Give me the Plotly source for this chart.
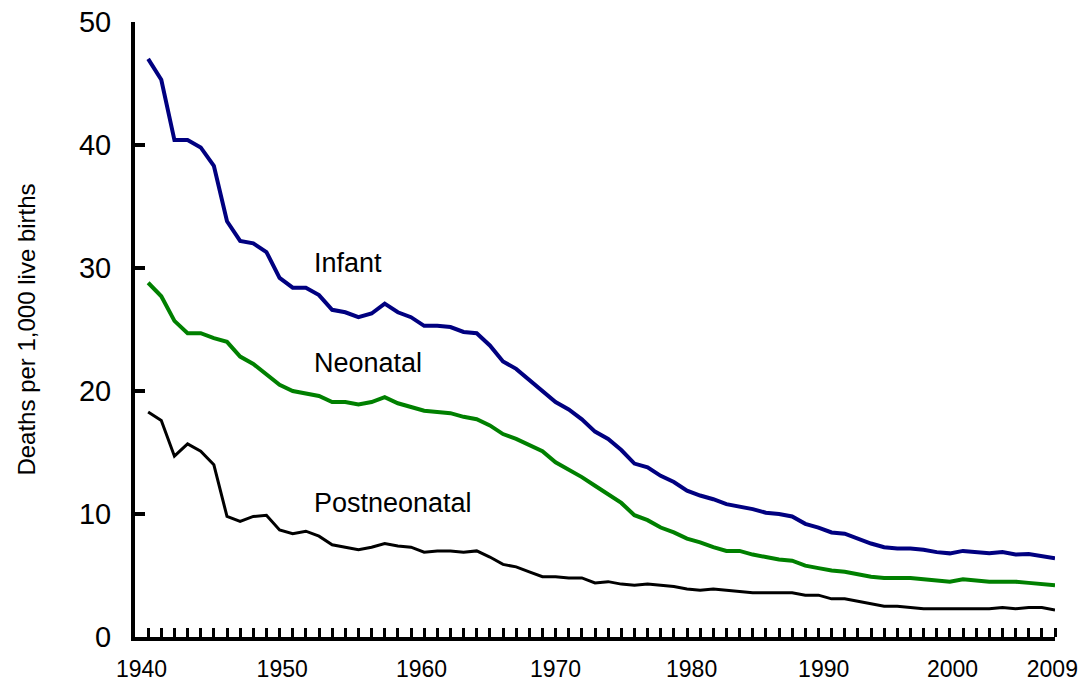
import plotly.graph_objects as go

years = list(range(1940, 2010))

infant = [47.0, 45.3, 40.4, 40.4, 39.8, 38.3, 33.8, 32.2, 32.0, 31.3,
          29.2, 28.4, 28.4, 27.8, 26.6, 26.4, 26.0, 26.3, 27.1, 26.4,
          26.0, 25.3, 25.3, 25.2, 24.8, 24.7, 23.7, 22.4, 21.8, 20.9,
          20.0, 19.1, 18.5, 17.7, 16.7, 16.1, 15.2, 14.1, 13.8, 13.1,
          12.6, 11.9, 11.5, 11.2, 10.8, 10.6, 10.4, 10.1, 10.0, 9.8,
          9.2, 8.9, 8.5, 8.4, 8.0, 7.6, 7.3, 7.2, 7.2, 7.1,
          6.9, 6.8, 7.0, 6.9, 6.8, 6.9, 6.7, 6.75, 6.6, 6.4]

neonatal = [28.8, 27.7, 25.7, 24.7, 24.7, 24.3, 24.0, 22.8, 22.2, 21.4,
            20.5, 20.0, 19.8, 19.6, 19.1, 19.1, 18.9, 19.1, 19.5, 19.0,
            18.7, 18.4, 18.3, 18.2, 17.9, 17.7, 17.2, 16.5, 16.1, 15.6,
            15.1, 14.2, 13.6, 13.0, 12.3, 11.6, 10.9, 9.9, 9.5, 8.9,
            8.5, 8.0, 7.7, 7.3, 7.0, 7.0, 6.7, 6.5, 6.3, 6.2,
            5.8, 5.6, 5.4, 5.3, 5.1, 4.9, 4.8, 4.8, 4.8, 4.7,
            4.6, 4.5, 4.7, 4.6, 4.5, 4.5, 4.5, 4.4, 4.3, 4.2]

postneonatal = [18.3, 17.6, 14.7, 15.7, 15.1, 14.0, 9.8, 9.4, 9.8, 9.9,
                8.7, 8.4, 8.6, 8.2, 7.5, 7.3, 7.1, 7.3, 7.6, 7.4,
                7.3, 6.9, 7.0, 7.0, 6.9, 7.0, 6.5, 5.9, 5.7, 5.3,
                4.9, 4.9, 4.8, 4.8, 4.4, 4.5, 4.3, 4.2, 4.3, 4.2,
                4.1, 3.9, 3.8, 3.9, 3.8, 3.7, 3.6, 3.6, 3.6, 3.6,
                3.4, 3.4, 3.1, 3.1, 2.9, 2.7, 2.5, 2.5, 2.4, 2.3,
                2.3, 2.3, 2.3, 2.3, 2.3, 2.4, 2.3, 2.4, 2.4, 2.2]

tick_labels = ["1940", "1950", "1960", "1970", "1980", "1990", "2000", "2009"]
tick_label_positions = [1939.5, 1950.2, 1960.8, 1971.0, 1981.35, 1991.4, 2001.2, 2008.8]

y_ticks = [0, 10, 20, 30, 40, 50]

series_names = ["Infant", "Neonatal", "Postneonatal"]
series_colors = ["#000080", "#008000", "#000000"]
series_widths = [4, 4, 3]
label_x = [1952.5, 1952.5, 1952.5]
label_y = [30.4, 22.3, 10.9]

FONT = "Arial, Liberation Sans, sans-serif"

fig = go.Figure()
for name, vals, col, w in zip(series_names, [infant, neonatal, postneonatal], series_colors, series_widths):
    fig.add_trace(go.Scatter(x=years, y=vals, mode="lines", name=name,
                             line=dict(color=col, width=w), showlegend=False,
                             hoverinfo="skip"))

for name, lx, ly in zip(series_names, label_x, label_y):
    fig.add_annotation(x=lx, y=ly, xref="x", yref="y", text=name, showarrow=False,
                       xanchor="left", yanchor="middle",
                       font=dict(family=FONT, size=27, color="#000000"))

fig.update_layout(
    template="none",
    width=1084, height=683,
    margin=dict(l=135, r=29, t=22, b=46, pad=0),
    paper_bgcolor="white", plot_bgcolor="white",
    font=dict(family=FONT, color="#000000"),
    xaxis=dict(
        automargin=False,
        range=[1939, 2009], showgrid=False, zeroline=False,
        showline=True, linecolor="#000000", linewidth=4,
        tickmode="array", tickvals=tick_label_positions, ticktext=tick_labels,
        ticks="", ticklabelstandoff=8,
        tickfont=dict(family=FONT, size=23, color="#000000"),
        minor=dict(tickmode="array", tickvals=years, ticks="inside",
                   ticklen=9, tickwidth=3, tickcolor="#000000", showgrid=False),
    ),
    yaxis=dict(
        automargin=False,
        range=[0, 50], showgrid=False, zeroline=False,
        showline=True, linecolor="#000000", linewidth=4,
        tickmode="array", tickvals=y_ticks,
        ticks="inside", ticklen=10, tickwidth=4, tickcolor="#000000",
        ticklabelstandoff=14,
        tickfont=dict(family=FONT, size=29, color="#000000"),
        title=dict(text="Deaths per 1,000 live births", standoff=38,
                   font=dict(family=FONT, size=24, color="#000000")),
    ),
)

fig.write_html(
    "out.html",
    config={"displayModeBar": False, "staticPlot": True},
    post_script="document.body.style.margin='0';document.body.style.padding='0';document.body.style.overflow='hidden';",
)
